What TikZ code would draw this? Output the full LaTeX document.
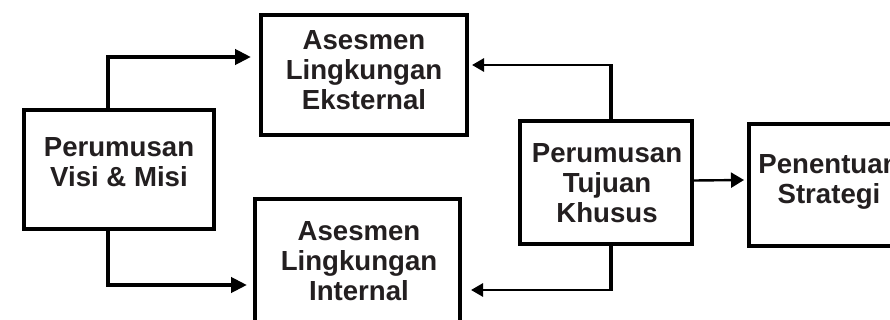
\documentclass[tikz,border=0pt]{standalone}
\usepackage{fontspec}
\setmainfont{Liberation Sans}
\usetikzlibrary{arrows.meta,calc}
\definecolor{txt}{RGB}{35,31,32}
\begin{document}
\begin{tikzpicture}[x=1pt,y=-1pt,
  box/.style={draw=black, line width=4pt, rectangle, inner sep=0pt},
  lbl/.style={font=\bfseries\fontsize{27.6}{30}\selectfont, align=center, text=txt, inner sep=0pt},
  thickarr/.style={line width=4pt, -{Triangle[length=16pt,width=15pt]}},
  thinarr/.style={line width=2.8pt, -{Triangle[length=12pt,width=13pt]}},
  rarr/.style={line width=2.4pt, -{Triangle[length=13pt,width=15pt]}},
  seg/.style={line width=4pt}]
\clip (0,0) rectangle (890,320);
\fill[white] (0,0) rectangle (890,320);
% boxes
\node[box, minimum width=190pt, minimum height=119pt] (visi) at (119,169.5) {};
\node[box, minimum width=206pt, minimum height=120pt] (eks) at (364,75) {};
\node[box, minimum width=205pt, minimum height=132pt] (int) at (357.5,265) {};
\node[box, minimum width=172pt, minimum height=123pt] (tuj) at (606,182.5) {};
\node[box, minimum width=160pt, minimum height=122pt] (str) at (829,185) {};
% labels
\node[lbl] (visit) at (119,162) {Perumusan\\Visi \& Misi};
\node[lbl] (ekst) at (364,70) {Asesmen\\Lingkungan\\Eksternal};
\node[lbl] (intt) at (359,261) {Asesmen\\Lingkungan\\Internal};
\node[lbl] (tujt) at (607,183) {Perumusan\\Tujuan\\Khusus};
\node[lbl] (strt) at (829,182) {Penentuan\\Strategi};
% connectors
\draw[thickarr] ([xshift=-11pt]visi.north) |- ($(eks.west)+(-8,-18)$);
\draw[thickarr] ([xshift=-11pt]visi.south) |- ($(int.west)+(-6,20)$);
\coordinate (c1) at ($(tuj.north)+(5,0)$);
\coordinate (c1b) at (c1 |- 0,65);
\draw[seg] (c1) -- ([yshift=-1.4pt]c1b);
\draw[thinarr] ([xshift=2pt]c1b) -- ($(eks.east)+(3,-10)$);
\coordinate (c2) at ($(tuj.south)+(5,0)$);
\coordinate (c2b) at (c2 |- 0,290);
\draw[seg] (c2) -- ([yshift=1.4pt]c2b);
\draw[thinarr] ([xshift=2pt]c2b) -- ($(int.east)+(9,25)$);
\draw[rarr] ($(tuj.east)+(0,-2)$) -- ($(str.west)+(-3,-5)$);
\end{tikzpicture}
\end{document}
